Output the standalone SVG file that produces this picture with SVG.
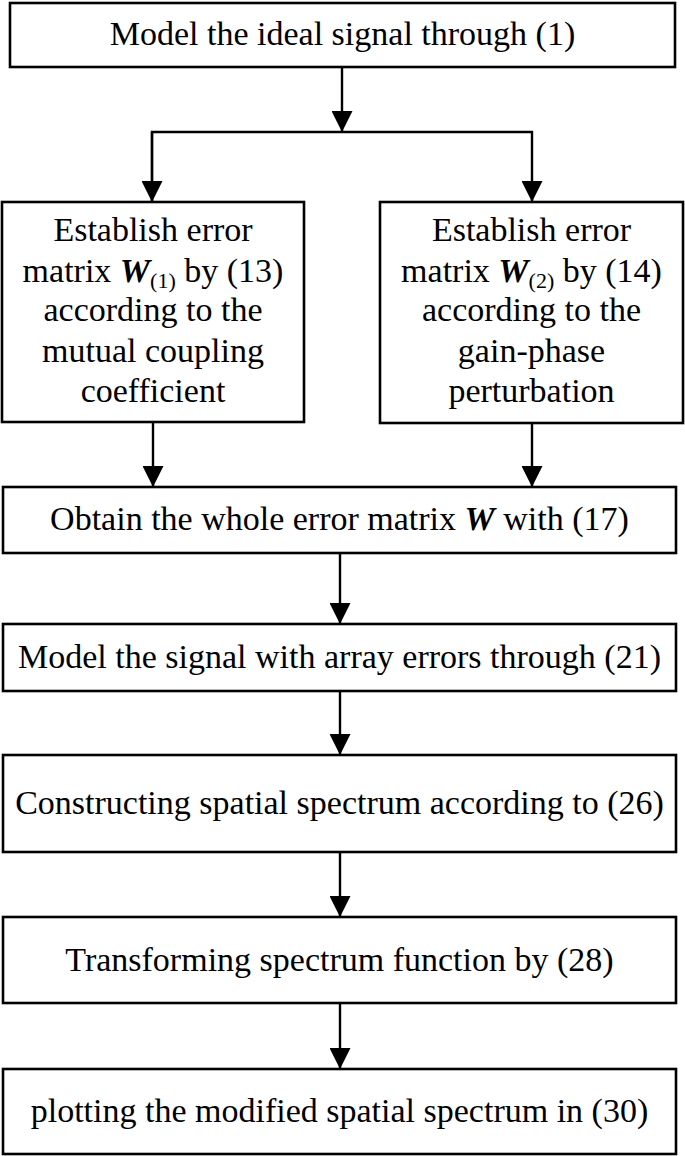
<svg xmlns="http://www.w3.org/2000/svg" width="685" height="1156" viewBox="0 0 685 1156">
<style>
.box{fill:#fff;stroke:#000;stroke-width:2.6}
.t{font-family:'Liberation Serif','Times New Roman',Tinos,'DejaVu Serif',serif;font-size:34px;fill:#000;text-anchor:middle}
.b{font-weight:bold;font-style:italic}
.s{font-size:22px}
.c{stroke:#000;stroke-width:2.4;fill:none}
</style>
<defs>
<marker id="ah" markerUnits="userSpaceOnUse" markerWidth="21" markerHeight="21" refX="21" refY="10.5" orient="auto">
<path d="M0,0 L21,10.5 L0,21 z" fill="#000"/>
</marker>
</defs>
<rect width="685" height="1156" fill="#fff"/>
<g id="connectors">
<line class="c" x1="342" y1="67" x2="342" y2="132" marker-end="url(#ah)"/>
<polyline class="c" points="152,202 152,132 532,132 532,202" marker-end="url(#ah)"/>
<line class="c" x1="152" y1="132" x2="152" y2="202" marker-end="url(#ah)"/>
<line class="c" x1="153" y1="422" x2="153" y2="487" marker-end="url(#ah)"/>
<line class="c" x1="532" y1="423" x2="532" y2="487" marker-end="url(#ah)"/>
<line class="c" x1="340" y1="553" x2="340" y2="624" marker-end="url(#ah)"/>
<line class="c" x1="340" y1="691" x2="340" y2="755" marker-end="url(#ah)"/>
<line class="c" x1="340" y1="852" x2="340" y2="917" marker-end="url(#ah)"/>
<line class="c" x1="340" y1="1003" x2="340" y2="1069" marker-end="url(#ah)"/>
</g>
<g font-family="Liberation Serif, Times New Roman, serif">
<g id="n1">
<rect class="box" x="10" y="3" width="665" height="64"/>
<text class="t" x="342.5" y="45">Model the ideal signal through (1)</text>
</g>
<g id="n2">
<rect class="box" x="2" y="202" width="302" height="220"/>
<text class="t" x="153" y="241">Establish error</text>
<text class="t" x="153" y="282">matrix <tspan class="b">W</tspan><tspan class="s" dy="6">(1)</tspan><tspan dy="-6">  by (13)</tspan></text>
<text class="t" x="153" y="321">according to the</text>
<text class="t" x="153" y="362">mutual coupling</text>
<text class="t" x="153" y="402">coefficient</text>
</g>
<g id="n3">
<rect class="box" x="380" y="202" width="303" height="221"/>
<text class="t" x="531.5" y="241">Establish error</text>
<text class="t" x="531.5" y="282">matrix <tspan class="b">W</tspan><tspan class="s" dy="6">(2)</tspan><tspan dy="-6"> by (14)</tspan></text>
<text class="t" x="531.5" y="321">according to the</text>
<text class="t" x="531.5" y="362">gain-phase</text>
<text class="t" x="531.5" y="402">perturbation</text>
</g>
<g id="n4">
<rect class="box" x="3" y="487" width="673" height="66"/>
<text class="t" x="339.5" y="530">Obtain the whole error matrix <tspan class="b">W</tspan> with (17)</text>
</g>
<g id="n5">
<rect class="box" x="3" y="624" width="673" height="67"/>
<text class="t" x="339.5" y="668">Model the signal with array errors through (21)</text>
</g>
<g id="n6">
<rect class="box" x="3" y="755" width="673" height="97"/>
<text class="t" x="339.5" y="814">Constructing spatial spectrum according to (26)</text>
</g>
<g id="n7">
<rect class="box" x="3" y="917" width="673" height="86"/>
<text class="t" x="339.5" y="971">Transforming spectrum function by (28)</text>
</g>
<g id="n8">
<rect class="box" x="3" y="1069" width="673" height="85"/>
<text class="t" x="339.5" y="1122">plotting the modified spatial spectrum in (30)</text>
</g>
</g>
</svg>
